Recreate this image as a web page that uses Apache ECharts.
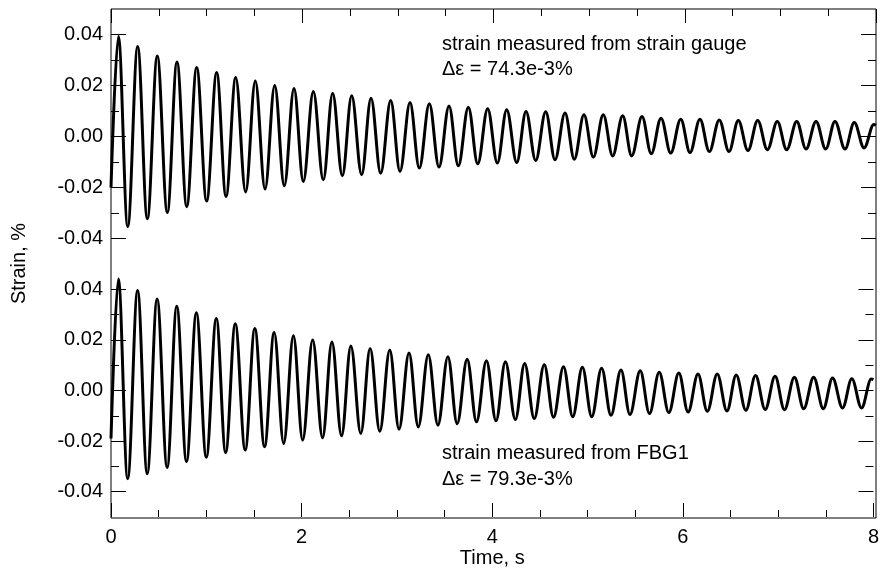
<!DOCTYPE html>
<html><head><meta charset="utf-8">
<script src="https://cdn.jsdelivr.net/npm/echarts@6/dist/echarts.min.js"></script>
<style>html,body{margin:0;padding:0;background:#fff}#c{width:882px;height:569px}</style>
</head><body><div id="c"></div>
<script>
// Times (s) of the oscillation extrema
const peakTimes = [0.077,0.279,0.484,0.690,0.896,1.105,1.304,1.509,1.712,1.914,2.116,2.318,2.517,2.719,2.925,3.127,3.329,3.535,3.737,3.939,4.138,4.340,4.546,4.748,4.946,5.148,5.351,5.553,5.752,5.958,6.159,6.361,6.560,6.763,6.968,7.171,7.373,7.571,7.773,7.977];
const troughTimes = [0.175,0.380,0.589,0.792,1.000,1.203,1.408,1.611,1.812,2.011,2.220,2.419,2.621,2.820,3.022,3.224,3.430,3.632,3.835,4.040,4.243,4.441,4.643,4.845,5.044,5.246,5.445,5.650,5.853,6.055,6.257,6.463,6.661,6.864,7.066,7.268,7.474,7.676,7.875];
// Strain gauge (top panel), %
const gaugePeaks = [0.0392,0.0353,0.0316,0.0292,0.0271,0.0251,0.0231,0.0218,0.0200,0.0188,0.0176,0.0170,0.0160,0.0150,0.0141,0.0133,0.0128,0.0120,0.0115,0.0109,0.0105,0.0098,0.0097,0.0092,0.0085,0.0085,0.0081,0.0078,0.0072,0.0068,0.0068,0.0065,0.0063,0.0063,0.0059,0.0059,0.0059,0.0059,0.0055,0.0047];
const gaugeTroughs = [-0.0353,-0.0323,-0.0298,-0.0275,-0.0253,-0.0235,-0.0218,-0.0206,-0.0193,-0.0176,-0.0170,-0.0154,-0.0150,-0.0144,-0.0137,-0.0124,-0.0120,-0.0115,-0.0107,-0.0104,-0.0102,-0.0094,-0.0091,-0.0089,-0.0081,-0.0076,-0.0076,-0.0068,-0.0065,-0.0063,-0.0059,-0.0059,-0.0055,-0.0052,-0.0052,-0.0049,-0.0049,-0.0049,-0.0045];
const gaugeStartEnd = [-0.0200, 0.0044];
// FBG1 (bottom panel), %
const fbgPeaks = [0.0441,0.0395,0.0362,0.0333,0.0307,0.0285,0.0264,0.0245,0.0229,0.0216,0.0200,0.0192,0.0176,0.0166,0.0160,0.0148,0.0141,0.0133,0.0124,0.0118,0.0114,0.0107,0.0102,0.0094,0.0092,0.0088,0.0081,0.0078,0.0072,0.0069,0.0065,0.0065,0.0061,0.0059,0.0056,0.0052,0.0052,0.0049,0.0046,0.0045];
const fbgTroughs = [-0.0349,-0.0329,-0.0304,-0.0281,-0.0264,-0.0245,-0.0235,-0.0222,-0.0209,-0.0196,-0.0187,-0.0179,-0.0170,-0.0161,-0.0153,-0.0144,-0.0137,-0.0131,-0.0124,-0.0120,-0.0115,-0.0111,-0.0106,-0.0104,-0.0104,-0.0098,-0.0095,-0.0091,-0.0087,-0.0085,-0.0082,-0.0081,-0.0078,-0.0075,-0.0076,-0.0072,-0.0072,-0.0069,-0.0069];
const fbgStartEnd = [-0.0190, 0.0043];
const timeRange = [0, 8];
const yMajorTicks = [-0.04,-0.02,0,0.02,0.04];
const yMinorTicks = [-0.03,-0.01,0.01,0.03];
const gaugeText = ['strain measured from strain gauge','\u0394\u03b5 = 74.3e-3%'];
const fbgText = ['strain measured from FBG1','\u0394\u03b5 = 79.3e-3%'];
const xName = 'Time, s';
const yName = 'Strain, %';

function build(peaks, troughs, se){
  const d = [[timeRange[0], se[0]]];
  for (let i = 0; i < peakTimes.length; i++) {
    d.push([peakTimes[i], peaks[i]]);
    if (i < troughTimes.length) d.push([troughTimes[i], troughs[i]]);
  }
  d.push([timeRange[1], se[1]]);
  return d;
}

const FONT = 'Liberation Sans, Arial, sans-serif';
const black = {color:'#000', width:1};
function yAxes(g){
  const base = {type:'value', gridIndex:g, min:-0.05, max:0.05, splitLine:{show:false}, axisLine:{show:false, onZero:false}};
  const major = {show:true, inside:true, length:15, customValues:yMajorTicks, lineStyle:black};
  const minor = {show:true, inside:true, length:8, customValues:yMinorTicks, lineStyle:black};
  return [
    Object.assign({}, base, {position:'left', axisTick:major,
      axisLabel:{show:true, customValues:yMajorTicks, formatter:v=>v.toFixed(2), margin:8, fontSize:20, fontFamily:FONT, color:'#000'}}),
    Object.assign({}, base, {position:'left', axisTick:minor, axisLabel:{show:false}}),
    Object.assign({}, base, {position:'right', axisTick:major, axisLabel:{show:false}}),
    Object.assign({}, base, {position:'right', axisTick:minor, axisLabel:{show:false}})
  ];
}
const xBase = {type:'value', min:timeRange[0], max:timeRange[1], interval:2, splitLine:{show:false},
  axisLine:{show:false, onZero:false},
  axisTick:{show:true, inside:true, length:14, lineStyle:black},
  minorTick:{show:true, splitNumber:4, length:7, lineStyle:black}};

function textEl(x, y, s){
  return {type:'text', x:x, y:y, silent:true,
    style:{text:s, font:'20px ' + FONT, fill:'#000', align:'left', verticalAlign:'middle'}};
}

const chart = echarts.init(document.getElementById('c'), null, {renderer:'canvas'});
chart.setOption({
  animation:false,
  backgroundColor:'#fff',
  grid:[
    {left:111, right:6, top:9, height:255},
    {left:111, right:6, top:264, bottom:51},
    {left:111, right:6, top:9, bottom:51, show:true, borderColor:'#000', borderWidth:1, backgroundColor:'transparent', z:3}
  ],
  xAxis:[
    Object.assign({}, xBase, {gridIndex:0, position:'top', axisLabel:{show:false}}),
    Object.assign({}, xBase, {gridIndex:1, position:'bottom',
      axisLabel:{show:true, margin:10, fontSize:20, fontFamily:FONT, color:'#000'},
      name:xName, nameLocation:'middle', nameGap:31, nameTextStyle:{fontSize:20, fontFamily:FONT, color:'#000'}}),
    {type:'value', gridIndex:2, show:false, min:0, max:1}
  ],
  yAxis: yAxes(0).concat(yAxes(1)).concat([{type:'value', gridIndex:2, show:false, min:0, max:1}]),
  series:[
    {type:'line', xAxisIndex:0, yAxisIndex:0, data:build(gaugePeaks, gaugeTroughs, gaugeStartEnd),
     smooth:0.36, smoothMonotone:'x', showSymbol:false, clip:true, lineStyle:{color:'#000', width:3}},
    {type:'line', xAxisIndex:1, yAxisIndex:4, data:build(fbgPeaks, fbgTroughs, fbgStartEnd),
     smooth:0.36, smoothMonotone:'x', showSymbol:false, clip:true, lineStyle:{color:'#000', width:3}}
  ],
  graphic:[
    textEl(442, 44.5, gaugeText[0]),
    textEl(442, 69.5, gaugeText[1]),
    textEl(442, 453.5, fbgText[0]),
    textEl(442, 479, fbgText[1]),
    {type:'text', x:19, y:263.5, rotation:Math.PI/2, silent:true,
     style:{text:yName, font:'20px ' + FONT, fill:'#000', align:'center', verticalAlign:'middle'}}
  ]
});
</script></body></html>
